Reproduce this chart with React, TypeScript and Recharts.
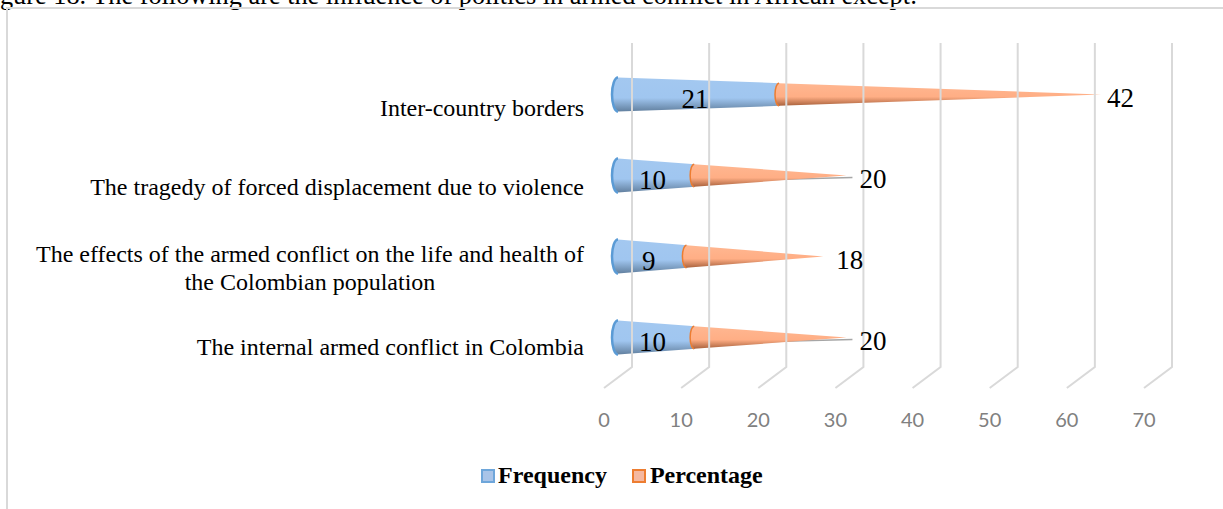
import { BarChart, Bar, XAxis, YAxis, Legend, LabelList } from "recharts";

const categories = [
  "Inter-country borders",
  "The tragedy of forced displacement due to violence",
  "The effects of the armed conflict on the life and health of\nthe Colombian population",
  "The internal armed conflict in Colombia",
];
const frequency = [21, 10, 9, 10];
const percentage = [42, 20, 18, 20];
const hasLeader = [false, true, false, true];
const xTicks = [0, 10, 20, 30, 40, 50, 60, 70];

const chartData = categories.map((name, i) => ({
  name,
  frequency: frequency[i],
  percentage: percentage[i],
  leader: hasLeader[i],
}));

const SERIF = "'Liberation Serif', serif";
const DEPTH = 11; // bars sit between the floor front edge and the back wall
const BASE_HALF = 17;

function coneEdge(full: number, at: number) {
  return BASE_HALF * (1 - at / full);
}

function Cone(props: any) {
  const { x, y, width, height, payload, dataKey } = props;
  const isFirst = dataKey === "frequency";
  const value = isFirst ? payload.frequency : payload.percentage;
  const unit = width / value;
  const total = unit * (payload.frequency + payload.percentage);
  const cy = y + height / 2 + 0.5;
  const from = isFirst ? 0 : unit * payload.frequency;
  const to = isFirst ? width : total;
  const ox = x - from + DEPTH;
  const h0 = coneEdge(total, from);
  const h1 = coneEdge(total, to);
  const rx = isFirst ? 6 : 4;
  const x0 = ox + from + rx / 2;
  const x1 = isFirst ? ox + to + 3 : ox + to;
  const body = `M${x0},${cy - h0} L${x1},${cy - h1} L${x1},${cy + h1} L${x0},${cy + h0} A${rx},${h0} 0 0 1 ${x0},${cy - h0} Z`;
  return (
    <g>
      {!isFirst && payload.leader && (
        <line x1={x1 - 74} y1={cy + 4} x2={x1 + 6} y2={cy + 2} stroke="#a6a6a6" strokeWidth={1.5} />
      )}
      <path d={body} fill={isFirst ? "url(#coneBlue)" : "url(#coneOrange)"} />
      <path
        d={`M${x0},${cy - h0} A${rx},${h0} 0 0 0 ${x0},${cy + h0}`}
        fill="none"
        stroke={isFirst ? "#5b9bd5" : "#ed7d31"}
        strokeWidth={isFirst ? 2.5 : 1.5}
      />
    </g>
  );
}

function CategoryTick(props: any) {
  const { y, payload, index } = props;
  const lines: string[] = String(payload.value).split("\n");
  if (lines.length === 1) {
    return (
      <text x={584} y={y + 22 - index * 1.3} textAnchor="end" fontFamily={SERIF} fontSize={24} fill="#000">
        {lines[0]}
      </text>
    );
  }
  return (
    <text x={310} y={y + 6} textAnchor="middle" fontFamily={SERIF} fontSize={24} fill="#000">
      {lines.map((line, i) => (
        <tspan key={i} x={310} dy={i === 0 ? 0 : 28}>
          {line}
        </tspan>
      ))}
    </text>
  );
}

function WallTick(props: any) {
  const { x, index, payload } = props;
  return (
    <g key={index}>
      <polyline
        points={`${x},388 ${x + 28},367 ${x + 28},43`}
        fill="none"
        stroke="#d9d9d9"
        strokeWidth={2}
      />
      <text x={x} y={427} textAnchor="middle" fontFamily="Lato, sans-serif" fontSize={20} fill="#808080">
        {payload.value}
      </text>
    </g>
  );
}

function FrequencyLabel(props: any) {
  const { x, y, width, height, value } = props;
  return (
    <text
      x={x + width / 2 + DEPTH - 1}
      y={y + height / 2 + 14}
      textAnchor="middle"
      fontFamily={SERIF}
      fontSize={27}
      fill="#000"
    >
      {value}
    </text>
  );
}

function PercentageLabel(props: any) {
  const { x, y, width, height, value } = props;
  return (
    <text
      x={x + width + DEPTH + (value > 30 ? 6 : 13)}
      y={y + height / 2 + 13}
      fontFamily={SERIF}
      fontSize={27}
      fill="#000"
    >
      {value}
    </text>
  );
}

function LegendBox({ payload }: any) {
  return (
    <div style={{ display: "flex", alignItems: "center", fontFamily: SERIF, fontWeight: "bold", fontSize: 24 }}>
      {payload.map((item: any) => {
        const blue = item.dataKey === "frequency";
        return (
          <span key={item.value} style={{ display: "flex", alignItems: "center", marginRight: blue ? 25 : 0 }}>
            <span
              style={{
                boxSizing: "border-box",
                width: 14,
                height: 14,
                marginRight: blue ? 3 : 4,
                background: blue ? "#a9c4e8" : "#f5b8a0",
                border: `2px solid ${blue ? "#6ea6da" : "#ed7d31"}`,
              }}
            />
            {item.value}
          </span>
        );
      })}
    </div>
  );
}

export default function App() {
  return (
    <div style={{ position: "absolute", left: 0, top: 0, width: 1223, height: 509, overflow: "hidden", background: "#fff" }}>
      <div
        style={{
          position: "absolute",
          left: -22,
          top: -19,
          whiteSpace: "nowrap",
          fontFamily: SERIF,
          fontSize: 26.3,
          color: "#000",
        }}
      >
        Figure 18. The following are the influence of politics in armed conflict in African except:
      </div>
      <div
        style={{
          position: "absolute",
          left: 6,
          top: 7,
          width: 1230,
          height: 520,
          borderLeft: "2px solid #d9d9d9",
          borderTop: "2px solid #d9d9d9",
        }}
      />
      <div style={{ position: "absolute", left: 0, top: 0 }}>
        <BarChart
          width={1223}
          height={509}
          data={chartData}
          layout="vertical"
          barSize={40}
          margin={{ top: 53, right: 79, bottom: 75, left: 4 }}
        >
          <defs>
            <linearGradient id="coneBlue" x1="0" y1="0" x2="0" y2="1">
              <stop offset="0%" stopColor="#a3c8f0" />
              <stop offset="60%" stopColor="#a0c6f0" />
              <stop offset="100%" stopColor="#62809f" />
            </linearGradient>
            <linearGradient id="coneOrange" x1="0" y1="0" x2="0" y2="1">
              <stop offset="0%" stopColor="#ffb791" />
              <stop offset="60%" stopColor="#ffae85" />
              <stop offset="100%" stopColor="#a9623d" />
            </linearGradient>
          </defs>
          <XAxis
            type="number"
            domain={[0, 70]}
            ticks={xTicks}
            axisLine={false}
            tickLine={false}
            height={30}
            tick={<WallTick />}
            interval={0}
          />
          <YAxis
            type="category"
            dataKey="name"
            width={600}
            axisLine={false}
            tickLine={false}
            tick={<CategoryTick />}
            interval={0}
          />
          <Legend
            content={<LegendBox />}
            wrapperStyle={{ position: "absolute", left: 481, top: 462, width: "auto" }}
          />
          <Bar
            dataKey="frequency"
            name="Frequency"
            stackId="a"
            shape={<Cone />}
            isAnimationActive={false}
          >
            <LabelList dataKey="frequency" content={<FrequencyLabel />} />
          </Bar>
          <Bar
            dataKey="percentage"
            name="Percentage"
            stackId="a"
            shape={<Cone />}
            isAnimationActive={false}
          >
            <LabelList dataKey="percentage" content={<PercentageLabel />} />
          </Bar>
        </BarChart>
      </div>
    </div>
  );
}
